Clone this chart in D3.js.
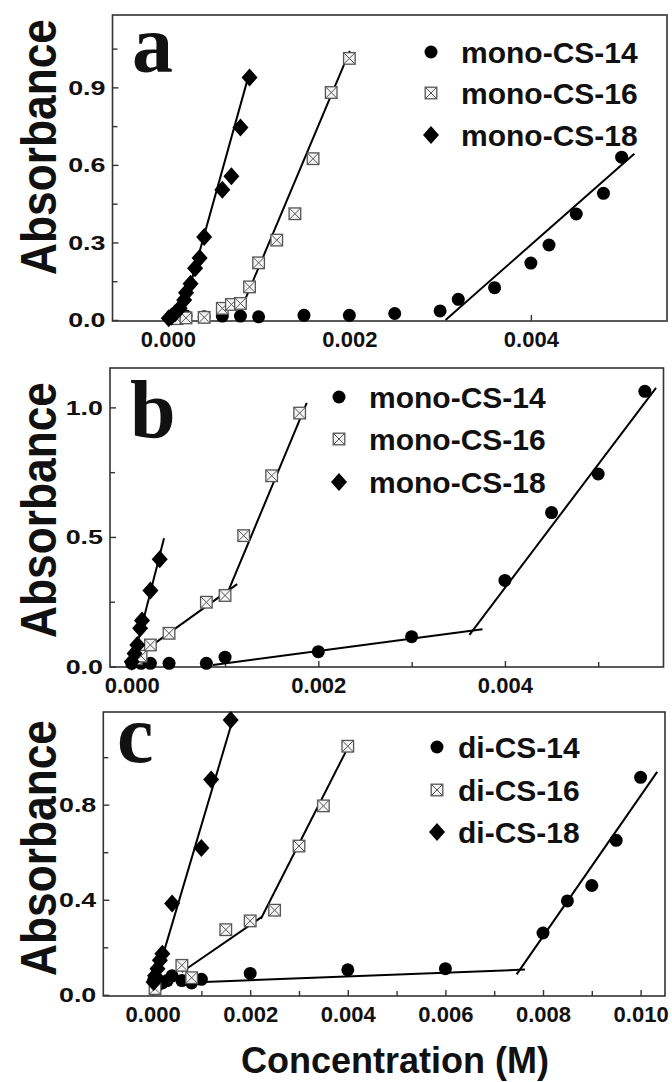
<!DOCTYPE html>
<html>
<head>
<meta charset="utf-8">
<script src="https://cdn.jsdelivr.net/npm/d3@7"></script>
<style>
  body { margin: 0; background: #fff; }
  svg { display: block; }
  text { font-family: "Liberation Sans", Arial, sans-serif; font-weight: bold; fill: #111; }
</style>
</head>
<body>
<svg width="672" height="1082"></svg>
<script>
// ---- data (concentration M, absorbance) ----
const a14 = [[0.00005,0.010],[0.0001,0.012],[0.00015,0.015],[0.0002,0.015],[0.0004,0.012],[0.0006,0.015],[0.0008,0.015],[0.001,0.012],[0.0015,0.018],[0.002,0.018],[0.0025,0.025],[0.003,0.035],[0.0032,0.08],[0.0036,0.125],[0.004,0.22],[0.0042,0.29],[0.0045,0.41],[0.0048,0.49],[0.005,0.63]]
const a16 = [[0.0001,0.005],[0.0002,0.008],[0.0004,0.01],[0.0006,0.045],[0.0007,0.06],[0.0008,0.064],[0.0009,0.128],[0.001,0.221],[0.0012,0.309],[0.0014,0.411],[0.0016,0.624],[0.0018,0.88],[0.002,1.012]]
const a18 = [[0.00001,0.007],[0.00004,0.013],[0.00008,0.026],[0.00013,0.045],[0.00018,0.077],[0.0002,0.105],[0.00025,0.14],[0.0003,0.2],[0.00035,0.24],[0.0004,0.321],[0.0006,0.504],[0.0007,0.556],[0.0008,0.745],[0.0009,0.938]]
const aFit14 = [[[0.00306,0],[0.00514,0.643]]]
const aFit16 = [[[0.000757,0],[0.002005,1.041]]]
const aFit18 = [[[0.00014,0],[0.0009,0.958]]]

const b14 = [[0,0.012],[0.0001,0.012],[0.0002,0.012],[0.0004,0.012],[0.0008,0.012],[0.001,0.036],[0.002,0.057],[0.003,0.115],[0.004,0.332],[0.0045,0.594],[0.005,0.743],[0.0055,1.062]]
const b16 = [[0.00005,0.03],[0.0001,0.04],[0.0002,0.083],[0.0004,0.128],[0.0008,0.248],[0.001,0.274],[0.0012,0.505],[0.0015,0.736],[0.0018,0.978]]
const b18 = [[0,0.018],[0.00003,0.05],[0.00006,0.083],[0.00009,0.148],[0.00011,0.177],[0.0002,0.293],[0.0003,0.414]]
const bFit14 = [[[0.00087,0.006],[0.00376,0.144]],[[0.00362,0.122],[0.00562,1.075]]]
const bFit16 = [[[0.00007,0.044],[0.00113,0.318]],[[0.00101,0.27],[0.001876,1.017]]]
const bFit18 = [[[0.000017,0.025],[0.000346,0.495]]]

const c14 = [[0.00002,0.06],[0.0001,0.04],[0.0002,0.05],[0.0003,0.06],[0.0004,0.08],[0.0006,0.06],[0.0008,0.05],[0.001,0.065],[0.002,0.09],[0.004,0.105],[0.006,0.11],[0.008,0.26],[0.0085,0.395],[0.009,0.46],[0.0095,0.65],[0.01,0.915]]
const c16 = [[0.00005,0.026],[0.0006,0.124],[0.0008,0.072],[0.0015,0.274],[0.002,0.311],[0.0025,0.356],[0.003,0.626],[0.0035,0.795],[0.004,1.046]]
const c18 = [[0.00002,0.054],[0.00005,0.08],[0.0001,0.11],[0.00015,0.145],[0.0002,0.173],[0.0004,0.384],[0.001,0.618],[0.0012,0.906],[0.0016,1.156]]
const cFit14 = [[[0.0008,0.052],[0.00763,0.106]],[[0.00746,0.086],[0.01034,0.938]]]
const cFit16 = [[[0.0006,0.096],[0.00224,0.328]],[[0.00222,0.32],[0.00405,1.06]]]
const cFit18 = [[[0.00024,0.187],[0.00166,1.17]]]

const monoLabels = ['mono-CS-14','mono-CS-16','mono-CS-18']
const diLabels = ['di-CS-14','di-CS-16','di-CS-18']

const xTicksA = [0,0.002,0.004], xMinorA = []
const yTicksA = [0,0.3,0.6,0.9], yMinorA = [0.15,0.45,0.75,1.05]
const xTicksB = [0,0.002,0.004], xMinorB = [0.001,0.003,0.005]
const yTicksB = [0,0.5,1.0], yMinorB = [0.25,0.75]
const xTicksC = [0,0.002,0.004,0.006,0.008,0.010], xMinorC = [0.001,0.003,0.005,0.007,0.009]
const yTicksC = [0,0.4,0.8], yMinorC = [0.2,0.6,1.0]

var svg = d3.select('svg')

var panels = [
  { letter: 'a', xd: [-0.00061,0.0055], xr: [112.5,667], yd: [-0.004,1.18], yr: [321,15],
    xt: xTicksA, xm: xMinorA, yt: yTicksA, ym: yMinorA, yf: d3.format('.1f'),
    series: [a14, a16, a18], fits: [aFit14, aFit16, aFit18], labels: monoLabels,
    lx: 431, ltx: 461, ly: [63,104,146], letterPos: [132,72], absY: 147 },
  { letter: 'b', xd: [-0.000233,0.0057], xr: [110,663.5], yd: [-0.002,1.152], yr: [667,368],
    xt: xTicksB, xm: xMinorB, yt: yTicksB, ym: yMinorB, yf: d3.format('.1f'),
    series: [b14, b16, b18], fits: [bFit14, bFit16, bFit18], labels: monoLabels,
    lx: 339, ltx: 369, ly: [408,450,493], letterPos: [130,437], absY: 510 },
  { letter: 'c', xd: [-0.00101,0.0105], xr: [103.3,665], yd: [-0.005,1.19], yr: [996,712],
    xt: xTicksC, xm: xMinorC, yt: yTicksC, ym: yMinorC, yf: d3.format('.1f'),
    series: [c14, c16, c18], fits: [cFit14, cFit16, cFit18], labels: diLabels,
    lx: 437, ltx: 458, ly: [758,801,843], letterPos: [117,762], absY: 848 }
]

function marker(g, kind, x, y) {
  if (kind == 0) {
    g.append('circle').attr('cx', x).attr('cy', y).attr('r', 6.5).attr('fill', '#000')
  } else if (kind == 1) {
    var s = 5.8
    g.append('rect').attr('x', x - s).attr('y', y - s).attr('width', 2 * s).attr('height', 2 * s)
      .attr('fill', '#f4f4f4').attr('stroke', '#555').attr('stroke-width', 1.3)
    g.append('path').attr('d', `M${x - s},${y - s}L${x + s},${y + s}M${x + s},${y - s}L${x - s},${y + s}`)
      .attr('stroke', '#555').attr('stroke-width', 1)
  } else {
    g.append('path').attr('d', `M${x},${y - 9}L${x + 8},${y}L${x},${y + 9}L${x - 8},${y}Z`).attr('fill', '#000')
  }
}

panels.forEach(p => {
  var x = d3.scaleLinear().domain(p.xd).range(p.xr)
  var y = d3.scaleLinear().domain(p.yd).range(p.yr)
  var g = svg.append('g')

  // frame
  g.append('rect').attr('x', p.xr[0]).attr('y', p.yr[1])
    .attr('width', p.xr[1] - p.xr[0]).attr('height', p.yr[0] - p.yr[1])
    .attr('fill', 'none').attr('stroke', '#333').attr('stroke-width', 1.6)

  // x axis (inward ticks)
  var xa = g.append('g').attr('transform', `translate(0,${p.yr[0]})`)
    .call(d3.axisBottom(x).tickValues(p.xt).tickSize(-6).tickPadding(10).tickFormat(d3.format('.3f')))
  xa.select('.domain').remove()
  xa.selectAll('text').attr('font-size', 22).attr('dy', '0.71em').attr('fill', '#111')
  xa.selectAll('line').attr('stroke', '#333').attr('stroke-width', 1.4)
  g.append('g').attr('transform', `translate(0,${p.yr[0]})`)
    .call(d3.axisBottom(x).tickValues(p.xm).tickSize(-5).tickFormat(''))
    .call(s => s.select('.domain').remove())
    .selectAll('line').attr('stroke', '#333').attr('stroke-width', 1.4)

  // y axis
  var ya = g.append('g').attr('transform', `translate(${p.xr[0]},0)`)
    .call(d3.axisLeft(y).tickValues(p.yt).tickSize(-6).tickFormat(''))
  ya.select('.domain').remove()
  ya.selectAll('line').attr('stroke', '#333').attr('stroke-width', 1.4)
  g.append('g').attr('transform', `translate(${p.xr[0]},0)`)
    .call(d3.axisLeft(y).tickValues(p.ym).tickSize(-5).tickFormat(''))
    .call(s => s.select('.domain').remove())
    .selectAll('line').attr('stroke', '#333').attr('stroke-width', 1.4)
  g.selectAll('.ylab').data(p.yt).enter().append('text')
    .attr('transform', d => `translate(${p.xr[0] - 7},${y(d) + 7.5}) scale(1.28,1)`)
    .attr('text-anchor', 'end').attr('font-size', 21)
    .text(d => p.yf(d))

  // fits
  var line = d3.line().x(d => x(d[0])).y(d => y(d[1]))
  p.fits.forEach(f => f.forEach(seg => {
    g.append('path').attr('d', line(seg)).attr('fill', 'none').attr('stroke', '#000').attr('stroke-width', 2)
  }))

  // points
  p.series.forEach((s, i) => s.forEach(d => marker(g, i, x(d[0]), y(d[1]))))

  // legend
  p.labels.forEach((t, i) => {
    marker(g, i, p.lx, p.ly[i] - 11)
    g.append('text').attr('x', p.ltx).attr('y', p.ly[i]).attr('font-size', 30).text(t)
  })

  // panel letter
  g.append('text').attr('x', p.letterPos[0]).attr('y', p.letterPos[1])
    .attr('font-size', 82).style('font-family', '"Liberation Serif", "Times New Roman", serif')
    .text(p.letter)

  // y label (squeezed along its length like the original)
  g.append('text').attr('transform', `translate(56,${p.absY}) rotate(-90) scale(0.886,1)`)
    .attr('text-anchor', 'middle').attr('font-size', 50)
    .text('Absorbance')
})

svg.append('text').attr('x', 395).attr('y', 1073).attr('text-anchor', 'middle')
  .attr('font-size', 36).text('Concentration (M)')
</script>
</body>
</html>
